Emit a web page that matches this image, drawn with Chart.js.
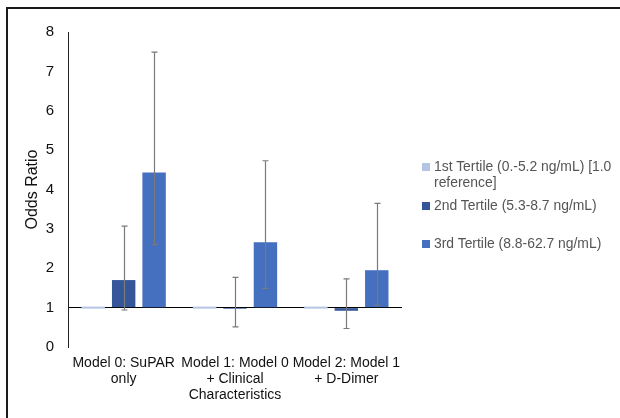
<!DOCTYPE html>
<html>
<head>
<meta charset="utf-8">
<script src="https://cdn.jsdelivr.net/npm/chart.js@4"></script>
<style>
  html, body { margin: 0; padding: 0; background: #fff; }
  #wrap { position: relative; width: 620px; height: 418px; overflow: hidden; font-family: "Liberation Sans", Arial, sans-serif; }
  #frame { position: absolute; left: 6px; top: 7px; width: 700px; height: 500px; border: 2px solid #1a1a1a; box-sizing: border-box; }
  #legend { position: absolute; left: 422px; top: 0; width: 196px; font-size: 13.9px; color: #555; }
  .item { position: absolute; left: 0; width: 196px; line-height: 15.7px; }
  .item i { position: absolute; left: 0; top: 4px; width: 8px; height: 8px; }
  .item span { display: block; padding-left: 12px; }
</style>
</head>
<body>
<div id="wrap">
  <div id="frame"></div>
  <canvas id="chart" width="620" height="418"></canvas>
  <div id="legend"></div>
</div>
<script>
const categories = [
    ['Model 0: SuPAR', 'only'],
    ['Model 1: Model 0', '+ Clinical', 'Characteristics'],
    ['Model 2: Model 1', '+ D-Dimer']
];
const seriesNames = [
    '1st Tertile (0.-5.2 ng/mL) [1.0 reference]',
    '2nd Tertile (5.3-8.7 ng/mL)',
    '3rd Tertile (8.8-62.7 ng/mL)'
];
const seriesColors = ['#b4c5e4', '#35579a', '#4570bf'];

const firstTertile = [1.0, 1.0, 1.0];
const secondTertile = [1.70, 0.97, 0.92];
const thirdTertile = [4.43, 2.66, 1.95];

const secondLow = [0.94, 0.51, 0.47];
const secondHigh = [3.07, 1.77, 1.73];
const thirdLow = [2.60, 1.49, 1.06];
const thirdHigh = [7.49, 4.73, 3.65];

const yTicks = [0, 1, 2, 3, 4, 5, 6, 7, 8];

// error bars drawn from the low/high arrays through the chart scales
const errorBars = {
    id: 'errorBars',
    afterDatasetsDraw(chart) {
        const ctx = chart.ctx;
        const y = chart.scales.y;
        const sets = [null, [secondLow, secondHigh], [thirdLow, thirdHigh]];
        ctx.save();
        ctx.strokeStyle = '#7a7a7a';
        ctx.lineWidth = 1.2;
        sets.forEach((pair, di) => {
            if (!pair) return;
            const meta = chart.getDatasetMeta(di);
            meta.data.forEach((bar, i) => {
                const x = Math.round(bar.x) + 0.5;
                const yl = y.getPixelForValue(pair[0][i]);
                const yh = y.getPixelForValue(pair[1][i]);
                ctx.beginPath();
                ctx.moveTo(x, yl);
                ctx.lineTo(x, yh);
                ctx.moveTo(x - 3, yl);
                ctx.lineTo(x + 3, yl);
                ctx.moveTo(x - 3, yh);
                ctx.lineTo(x + 3, yh);
                ctx.stroke();
            });
        });
        ctx.restore();
    }
};

const values = [firstTertile, secondTertile, thirdTertile];

new Chart(document.getElementById('chart').getContext('2d'), {
    type: 'bar',
    data: {
        labels: categories,
        datasets: values.map((v, i) => ({
            label: seriesNames[i],
            data: v,
            base: 1,
            backgroundColor: seriesColors[i],
            borderWidth: 0,
            minBarLength: i === 0 ? 2 : 0,
            categoryPercentage: 0.82,
            barPercentage: 0.77
        }))
    },
    options: {
        responsive: false,
        animation: false,
        layout: { padding: { top: 32, right: 218, left: 0, bottom: 0 } },
        plugins: {
            legend: { display: false },
            tooltip: { enabled: false }
        },
        scales: {
            x: {
                grid: { display: false, drawTicks: false },
                border: { display: false },
                ticks: {
                    color: '#111',
                    padding: 8,
                    maxRotation: 0,
                    autoSkip: false,
                    font: { family: 'Liberation Sans', size: 14, lineHeight: 1.14 }
                },
                afterFit(scale) { scale.height = 71; }
            },
            y: {
                min: 0,
                max: 8,
                afterBuildTicks(scale) { scale.ticks = yTicks.map(v => ({ value: v })); },
                grid: {
                    drawTicks: false,
                    color: c => (c.tick && c.tick.value === 1 ? '#000' : 'rgba(0,0,0,0)'),
                    lineWidth: 1
                },
                border: { display: true, color: '#222', width: 1 },
                ticks: {
                    color: '#111',
                    padding: 14,
                    font: { family: 'Liberation Sans', size: 15 }
                },
                title: {
                    display: true,
                    text: 'Odds Ratio',
                    color: '#111',
                    padding: { top: 23, bottom: 0 },
                    font: { family: 'Liberation Sans', size: 16 }
                },
                afterFit(scale) { scale.width = 68; }
            }
        }
    },
    plugins: [errorBars]
});

// legend placed to the right, with the wrapping of the original
const legendTops = [159, 198, 236];
const legendEl = document.getElementById('legend');
seriesNames.forEach((name, i) => {
    const item = document.createElement('div');
    item.className = 'item';
    item.style.top = legendTops[i] + 'px';
    item.innerHTML = '<i style="background:' + seriesColors[i] + '"></i><span>' + name + '</span>';
    legendEl.appendChild(item);
});
</script>
</body>
</html>
